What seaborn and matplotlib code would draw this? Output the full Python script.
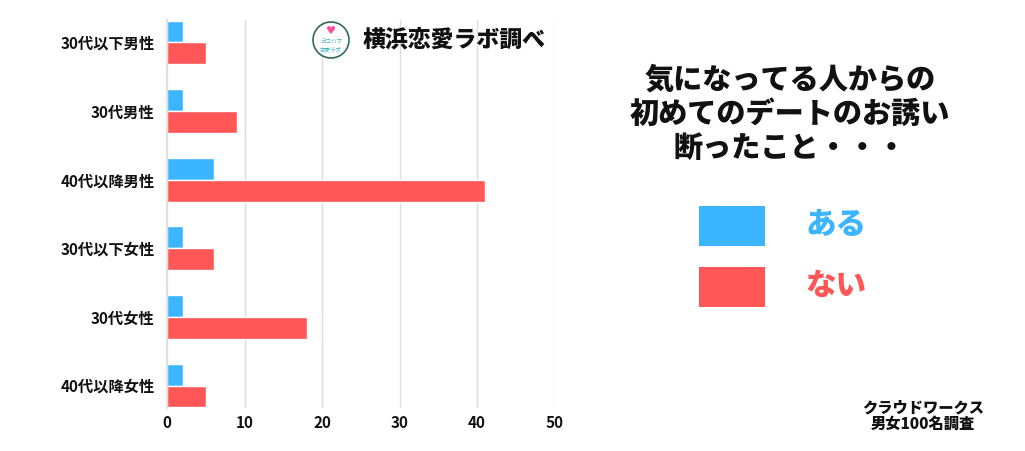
import pandas as pd
import matplotlib.pyplot as plt
import seaborn as sns
from matplotlib.patches import Rectangle, Ellipse

categories = ['30代以下男性', '30代男性', '40代以降男性', '30代以下女性', '30代女性', '40代以降女性']
aru = [2, 2, 6, 2, 2, 2]
nai = [5, 9, 41, 6, 18, 5]
series = ['ある', 'ない']
colors = ['#3BB5FF', '#FF5757']
xticks = [0, 10, 20, 30, 40, 50]

df = pd.DataFrame({
    'category': categories * 2,
    'answer': ['ある'] * len(categories) + ['ない'] * len(categories),
    'count': aru + nai,
})

sns.set_theme(style='white')
plt.rcParams['font.family'] = ['Noto Sans CJK JP', 'DejaVu Sans']

W, H = 1025, 451
fig = plt.figure(figsize=(W / 100, H / 100), dpi=100)
ax = fig.add_axes([0.163, 0.095, 0.378, 0.861])

sns.barplot(data=df, y='category', x='count', hue='answer', order=categories,
            hue_order=series, palette=colors, orient='h', width=0.64,
            saturation=1, ax=ax, legend=False)

ax.set_xlim(0, 50)
ax.set_ylim(5.33, -0.33)
ax.set_xticks(xticks)
ax.xaxis.grid(True, color='#dddddd', linewidth=1)
ax.set_axisbelow(True)
for s in ['top', 'right', 'bottom']:
    ax.spines[s].set_visible(False)
ax.spines['left'].set_color('#dddddd')
ax.set_xlabel('')
ax.set_ylabel('')
ax.tick_params(axis='both', length=0, labelsize=11, colors='#111111')
ax.tick_params(axis='y', pad=9)
ax.tick_params(axis='x', pad=5)
for lbl in ax.get_xticklabels() + ax.get_yticklabels():
    lbl.set_fontweight('bold')

# logo + source
fig.patches.append(Ellipse((331 / W, 1 - 40 / H), 36 / W, 36 / H, transform=fig.transFigure,
                           facecolor='white', edgecolor='#2e6b5a', linewidth=1.2))
fig.text(331 / W, 1 - 31 / H, '♥', color='#ff4f9a', ha='center', va='center', fontsize=8,
         family=['DejaVu Sans'])
fig.text(331 / W, 1 - 41 / H, 'ヨコハマ', color='#3aaeb8', ha='center', va='center', fontsize=4)
fig.text(331 / W, 1 - 49 / H, '恋愛ラボ', color='#3aaeb8', ha='center', va='center', fontsize=4)
fig.text(363 / W, 1 - 40 / H, '横浜恋愛ラボ調べ', ha='left', va='center', fontsize=16.5,
         fontweight='black', color='#111111')

# title
fig.text(790 / W, 1 - 114 / H, '気になってる人からの\n初めてのデートのお誘い\n断ったこと・・・',
         ha='center', va='center', fontsize=21, fontweight='black',
         color='#111111', linespacing=1.2)

# legend
for i, (name, col) in enumerate(zip(series, colors)):
    y0 = 1 - (246 + i * 61) / H
    fig.patches.append(Rectangle((699 / W, y0), 66 / W, 40 / H,
                                 transform=fig.transFigure, facecolor=col, edgecolor='none'))
    fig.text(836 / W, y0 + 22 / H, name, ha='center', va='center', fontsize=22,
             fontweight='black', color=col)

fig.text(923 / W, 1 - 416 / H, 'クラウドワークス\n男女100名調査', ha='center', va='center',
         fontsize=11, fontweight='black', color='#111111', linespacing=1.1)

fig.savefig('out.png', dpi=100)
